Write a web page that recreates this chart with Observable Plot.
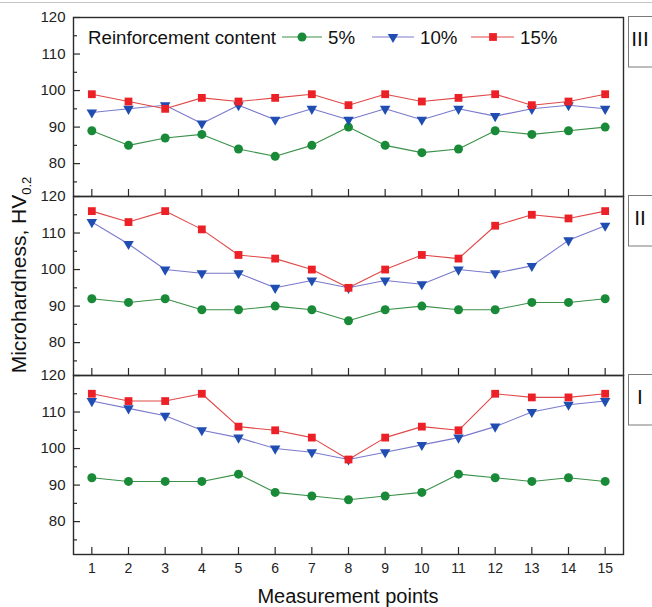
<!DOCTYPE html>
<html><head><meta charset="utf-8">
<script src="https://cdn.jsdelivr.net/npm/d3@7"></script>
<script src="https://cdn.jsdelivr.net/npm/@observablehq/plot@0.6"></script>
<style>
html,body{margin:0;padding:0;background:#fff;}
#chart svg{display:block;}
</style></head><body><div id="chart"></div>
<script>
// ---- data ----
const points = [1,2,3,4,5,6,7,8,9,10,11,12,13,14,15];
const panels = ["III","II","I"];
const series = ["5%","10%","15%"];
const legendTitle = "Reinforcement content";
const xLabel = "Measurement points";
const yLabelMain = "Microhardness, HV";
const yLabelSub = "0.2";
const yMajorTicks = [80,90,100,110,120];
const yMinorTicks = [75,85,95,105,115];

const panelIII_5  = [89,85,87,88,84,82,85,90,85,83,84,89,88,89,90];
const panelIII_10 = [94,95,96,91,96,92,95,92,95,92,95,93,95,96,95];
const panelIII_15 = [99,97,95,98,97,98,99,96,99,97,98,99,96,97,99];
const panelII_5   = [92,91,92,89,89,90,89,86,89,90,89,89,91,91,92];
const panelII_10  = [113,107,100,99,99,95,97,95,97,96,100,99,101,108,112];
const panelII_15  = [116,113,116,111,104,103,100,95,100,104,103,112,115,114,116];
const panelI_5    = [92,91,91,91,93,88,87,86,87,88,93,92,91,92,91];
const panelI_10   = [113,111,109,105,103,100,99,97,99,101,103,106,110,112,113];
const panelI_15   = [115,113,113,115,106,105,103,97,103,106,105,115,114,114,115];

// ---- styles ----
const lineColors = ["#3b9149","#7a7acc","#e04848"];
const markerColors = ["#198a37","#1f4db2","#ec2127"];
const symbols = ["circle","triangle","square"];
const rotations = [0,180,0];
const radii = [4.5,3.9,4.4];
const FONT = "'Liberation Sans', Arial, sans-serif";

const valuesByPanel = {
  "III": [panelIII_5, panelIII_10, panelIII_15],
  "II":  [panelII_5, panelII_10, panelII_15],
  "I":   [panelI_5, panelI_10, panelI_15]
};
const rows = [];
panels.forEach(p => series.forEach((s, si) =>
  valuesByPanel[p][si].forEach((v, i) => rows.push({panel: p, series: s, point: points[i], value: v}))));

const W = 652, H = 607, mT = 17, mB = 53, mL = 73, mR = 29;
const facetH = (H - mT - mB) / panels.length;
const innerW = W - mL - mR;
const TICK = "#2b2b2b";

const marks = [];
series.forEach((s, si) => {
  const d = rows.filter(r => r.series === s);
  marks.push(Plot.line(d, {x: "point", y: "value", fy: "panel", z: "panel", stroke: lineColors[si], strokeWidth: 1.1}));
  marks.push(Plot.dot(d, {x: "point", y: "value", fy: "panel", symbol: symbols[si], rotate: rotations[si],
    r: radii[si], fill: markerColors[si], stroke: "none"}));
});
marks.push(
  // inward ticks, repeated in every panel
  Plot.tickX(points, {x: d => d, insetTop: facetH - 7, stroke: TICK, strokeWidth: 1.2}),
  Plot.tickY(yMajorTicks, {y: d => d, insetRight: innerW - 7, stroke: TICK, strokeWidth: 1.2}),
  Plot.tickY(yMinorTicks, {y: d => d, insetRight: innerW - 4, stroke: TICK, strokeWidth: 1.2}),
  // tick labels
  Plot.axisX({ticks: points, tickSize: 0, tickPadding: 9, label: null, fontSize: 14, fill: "#222"}),
  Plot.axisY({ticks: yMajorTicks, tickSize: 0, tickPadding: 8, label: null, fontSize: 15, fill: "#222"}),
  Plot.frame({stroke: TICK, strokeWidth: 1.4})
);

const svgNode = Plot.plot({
  width: W, height: H,
  marginTop: mT, marginBottom: mB, marginLeft: mL, marginRight: mR,
  style: {fontFamily: FONT, background: "#fff", color: "#222"},
  x: {domain: [0.5, 15.5]},
  y: {domain: [71, 120]},
  fy: {domain: panels, axis: null, padding: 0},
  marks
});
document.getElementById("chart").appendChild(svgNode);

// ---- decorations ----
const svg = d3.select(svgNode);
const fy = svgNode.scale("fy");
const panelTop = p => (fy && fy.apply ? fy.apply(p) : mT + panels.indexOf(p) * facetH);

svg.append("line").attr("x1", 0).attr("x2", W).attr("y1", 2.5).attr("y2", 2.5)
  .attr("stroke", "#c4c4c4").attr("stroke-width", 1);

// panel labels
panels.forEach(p => {
  const t = panelTop(p);
  svg.append("rect").attr("x", 628.5).attr("y", t - 0.5).attr("width", 40).attr("height", 50.5)
    .attr("fill", "#fff").attr("stroke", "#7a7a7a").attr("stroke-width", 1);
  svg.append("text").attr("x", 640).attr("y", t + 21.5).attr("text-anchor", "middle")
    .attr("dominant-baseline", "central").style("font-family", FONT).style("font-size", "21px")
    .attr("fill", "#111").text(p);
});

// legend
const ly = panelTop("III") + 20;
const lg = svg.append("g").style("font-family", FONT).style("font-size", "18.7px")
  .attr("fill", "#111").attr("text-anchor", "start");
lg.append("text").attr("x", 88).attr("y", ly).attr("text-anchor", "start")
  .attr("dominant-baseline", "central").text(legendTitle);
const legendItems = [
  {x1: 282, x2: 322, sx: 302, tx: 328},
  {x1: 372, x2: 414, sx: 393, tx: 420},
  {x1: 471, x2: 514, sx: 493, tx: 520}
];
const d3Symbols = {circle: d3.symbolCircle, triangle: d3.symbolTriangle, square: d3.symbolSquare};
series.forEach((s, si) => {
  const it = legendItems[si];
  lg.append("line").attr("x1", it.x1).attr("x2", it.x2).attr("y1", ly).attr("y2", ly)
    .attr("stroke", lineColors[si]).attr("stroke-width", 1.1);
  lg.append("path").attr("d", d3.symbol(d3Symbols[symbols[si]], Math.PI * radii[si] * radii[si])())
    .attr("transform", `translate(${it.sx},${ly}) rotate(${rotations[si]})`).attr("fill", markerColors[si]);
  lg.append("text").attr("x", it.tx).attr("y", ly).attr("text-anchor", "start")
    .attr("dominant-baseline", "central").text(s);
});

// axis titles
svg.append("text").attr("x", (mL + W - mR) / 2).attr("y", 596).attr("text-anchor", "middle")
  .attr("dominant-baseline", "central").style("font-family", FONT).style("font-size", "20px")
  .attr("fill", "#111").text(xLabel);
const yl = svg.append("text").attr("transform", `translate(26,275) rotate(-90)`).attr("text-anchor", "middle")
  .style("font-family", FONT).style("font-size", "21px").attr("fill", "#111");
yl.append("tspan").text(yLabelMain);
yl.append("tspan").attr("dy", "0.35em").style("font-size", "13px").text(yLabelSub);
</script></body></html>
